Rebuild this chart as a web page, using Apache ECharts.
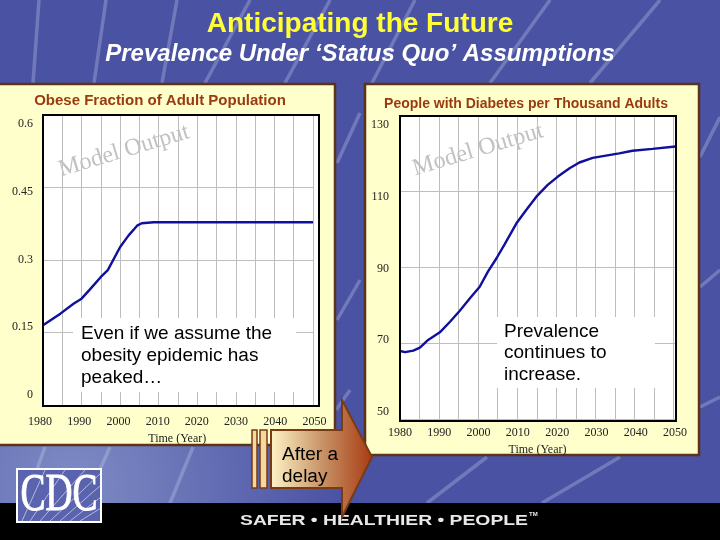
<!DOCTYPE html>
<html><head><meta charset="utf-8">
<style>html,body{margin:0;padding:0;background:#4a52a3}#c{width:720px;height:540px}</style>
<script src="https://cdn.jsdelivr.net/npm/echarts@6/dist/echarts.min.js"></script>
</head><body><div id="c"></div>
<script>
const obesityYears=[1980,1984.5,1988,1990,1992,1995,1996.8,2000,2002.2,2004.4,2005.6,2008.7,2020,2035,2050];
const obesityValues=[0.165,0.189,0.21,0.22,0.2376,0.265,0.279,0.327,0.351,0.371,0.376,0.378,0.378,0.378,0.378];
const diabetesYears=[1980,1981.3,1983.4,1985.1,1987.2,1990.2,1992.8,1995.3,1997.9,2000.4,2002.5,2004.7,2006.8,2009.8,2012.3,2014.9,2017.8,2020.4,2023.4,2025.9,2029.3,2032.7,2036.1,2039.5,2044.6,2050.5];
const diabetesValues=[67.9,67.6,68,68.8,70.8,72.8,75.6,78.5,81.8,84.8,88.8,92.3,96,101.5,105,108.5,111.6,113.8,116,117.5,118.7,119.3,119.9,120.6,121.1,121.7];
const mainTitle='Anticipating the Future';
const subTitle='Prevalence Under ‘Status Quo’ Assumptions';
const leftTitle='Obese Fraction of Adult Population';
const rightTitle='People with Diabetes per Thousand Adults';
const xName='Time (Year)';
const watermark='Model Output';
const leftNote=['Even if we assume the','obesity epidemic has','peaked…'];
const rightNote=['Prevalence','continues to','increase.'];
const arrowNote=['After a','delay'];
const footer='SAFER • HEALTHIER • PEOPLE';

const streaks=[[39,0,33,83],[106,0,94,83],[177,0,162,83],[250,0,205,83],[330,0,285,83],[415,0,372,83],[550,0,490,83],[660,0,590,83],
 [720,117,700,157],[720,270,700,287],[360,113,337,163],[360,280,337,320],[350,390,336,410],[487,457,427,503],[620,457,542,503],[720,397,700,407],[193,447,170,503],[45,447,25,503],[110,447,85,503]];
const gridLine={lineStyle:{color:'#bdbdbd',width:1}};
const labelFont={fontFamily:'Liberation Serif',fontSize:12,color:'#222'};
function plotX(g,max){return {gridIndex:g,type:'value',min:1980,max:max,interval:5,axisLine:{show:false},axisTick:{show:false},axisLabel:{show:false},splitLine:Object.assign({show:true},gridLine)};}
function plotY(g,min,max,i){return {gridIndex:g,type:'value',min:min,max:max,interval:i,axisLine:{show:false},axisTick:{show:false},axisLabel:{show:false},splitLine:Object.assign({show:true},gridLine)};}
function labelX(g,margin,nameGap){return {gridIndex:g,type:'value',min:1980,max:2050,interval:10,axisLine:{show:false},axisTick:{show:false},splitLine:{show:false},
  axisLabel:Object.assign({margin:margin,formatter:v=>String(v)},labelFont),name:xName,nameLocation:'middle',nameGap:nameGap,nameTextStyle:labelFont};}
function labelY(g,min,max,i,fmt,margin){return {gridIndex:g,type:'value',min:min,max:max,interval:i,axisLine:{show:false},axisTick:{show:false},splitLine:{show:false},
  axisLabel:Object.assign({margin:margin,formatter:fmt},labelFont)};}
function rect(x,y,w,h,style,z){return {type:'rect',shape:{x,y,width:w,height:h},style,z,silent:true};}
function txt(x,y,t,font,fill,z,extra){return Object.assign({type:'text',x,y,z,silent:true,style:{text:t,font,fill,textAlign:'left',textVerticalAlign:'middle'}},extra||{});}

const graphics=[];
graphics.push(rect(0,0,720,540,{fill:{type:'radial',x:0.1,y:0.9,r:0.5,colorStops:[{offset:0,color:'#7f8cc5'},{offset:1,color:'#4a52a3'}]}},-30));
streaks.forEach(s=>graphics.push({type:'line',shape:{x1:s[0],y1:s[1],x2:s[2],y2:s[3]},style:{stroke:'rgba(200,205,235,0.32)',lineWidth:3.5},z:-29,silent:true}));
graphics.push(rect(0,503,720,37,{fill:'#000'},-28));
graphics.push(rect(-3,84,338,361,{fill:'#ffffcc',stroke:'#5c3317',lineWidth:2.5},-20));
graphics.push(rect(365,84,334,371,{fill:'#ffffcc',stroke:'#5c3317',lineWidth:2.5},-20));
graphics.push(rect(43,115,276,291,{fill:'#fff'},-19));
graphics.push(rect(400,116,276,305,{fill:'#fff'},-19));
graphics.push(rect(43,115,276,291,{fill:'none',stroke:'#000',lineWidth:2},50));
graphics.push(rect(400,116,276,305,{fill:'none',stroke:'#000',lineWidth:2},50));
graphics.push(rect(73,318,223,74,{fill:'#fff'},60));
graphics.push(rect(497,317,158,71,{fill:'#fff'},60));
leftNote.forEach((t,i)=>graphics.push(txt(81,334+i*22,t,'19px "Liberation Sans"','#000',61,{scaleY:0.93})));
rightNote.forEach((t,i)=>graphics.push(txt(504,332+i*21.5,t,'19px "Liberation Sans"','#000',61,{scaleY:0.93})));
[[124,151],[478,150]].forEach(p=>graphics.push({type:'text',x:p[0],y:p[1],rotation:0.29,z:61,silent:true,
  style:{text:watermark,font:'24px "Liberation Serif"',fill:'#c2c2c2',textAlign:'center',textVerticalAlign:'middle'}}));
const arrowFill={type:'linear',x:0,y:0,x2:1,y2:0,colorStops:[{offset:0,color:'#fff5c8'},{offset:0.5,color:'#c89468'},{offset:1,color:'#a83a10'}]};
graphics.push({type:'polygon',shape:{points:[[271,430],[342,430],[342,400],[372,457],[342,517],[342,488],[271,488]]},style:{fill:arrowFill,stroke:'#7a3a14',lineWidth:2},z:70,silent:true});
graphics.push(rect(252,430,5,58,{fill:'#f3d9a0',stroke:'#7a3a14',lineWidth:1.5},70));
graphics.push(rect(260,430,7,58,{fill:'#f3d9a0',stroke:'#7a3a14',lineWidth:1.5},70));
arrowNote.forEach((t,i)=>graphics.push(txt(282,455+i*22,t,'19px "Liberation Sans"','#000',71,{scaleY:0.93})));
graphics.push(txt(240,521,footer,'bold 14px "Liberation Sans"','#e8e8e8',69,{scaleX:1.38}));
graphics.push(txt(529,514,'TM','bold 6px "Liberation Sans"','#e8e8e8',69));
graphics.push(rect(17,469,84,53,{fill:'#5a63ad',stroke:'#fff',lineWidth:2},40));
[[60,521,101,485],[70,521,101,497],[50,521,101,473],[80,521,101,508],[40,521,85,470],[30,521,65,470],[22,521,45,470]].forEach(l=>
  graphics.push({type:'line',shape:{x1:l[0],y1:l[1],x2:l[2],y2:l[3]},style:{stroke:'rgba(255,255,255,0.55)',lineWidth:1},z:41,silent:true}));
graphics.push({type:'text',x:59,y:496,scaleX:0.72,z:42,silent:true,style:{text:'CDC',font:'52px "Liberation Serif"',fill:'#fff',stroke:'#fff',lineWidth:1,textAlign:'center',textVerticalAlign:'middle'}});

const option={
  animation:false,
  backgroundColor:'#4a52a3',
  title:[
    {text:mainTitle,left:355,top:5,textAlign:'center',textStyle:{color:'#ffff33',fontFamily:'Liberation Sans',fontWeight:'bold',fontSize:28}},
    {text:subTitle,left:355,top:37,textAlign:'center',textStyle:{color:'#fff',fontFamily:'Liberation Sans',fontWeight:'bold',fontStyle:'italic',fontSize:24}},
    {text:leftTitle,left:155,top:88,textAlign:'center',textStyle:{color:'#9a3a10',fontFamily:'Liberation Sans',fontWeight:'bold',fontSize:15}},
    {text:rightTitle,left:521,top:92,textAlign:'center',textStyle:{color:'#9a3a10',fontFamily:'Liberation Sans',fontWeight:'bold',fontSize:14}}
  ],
  grid:[
    {left:43,top:115,width:270,height:290},
    {left:400,top:115,width:275.5,height:304},
    {left:40,top:124,width:274.5,height:271},
    {left:400,top:125,width:275,height:287}
  ],
  xAxis:[plotX(0,2050),plotX(1,2050.5),labelX(2,21,37),labelX(3,15,31)],
  yAxis:[plotY(0,0,0.6,0.15),plotY(1,50,130,20),
    labelY(2,0,0.6,0.15,v=>v===0?'0':String(+v.toFixed(2)),7),
    labelY(3,50,130,20,v=>String(v),11)],
  series:[
    {type:'line',xAxisIndex:0,yAxisIndex:0,data:obesityYears.map((y,i)=>[y,obesityValues[i]]),symbol:'none',lineStyle:{color:'#10109a',width:2.4},z:5},
    {type:'line',xAxisIndex:1,yAxisIndex:1,data:diabetesYears.map((y,i)=>[y,diabetesValues[i]]),symbol:'none',lineStyle:{color:'#10109a',width:2.4},z:5}
  ],
  graphic:{elements:graphics}
};
echarts.init(document.getElementById('c'),null,{renderer:'canvas'}).setOption(option);
</script></body></html>
